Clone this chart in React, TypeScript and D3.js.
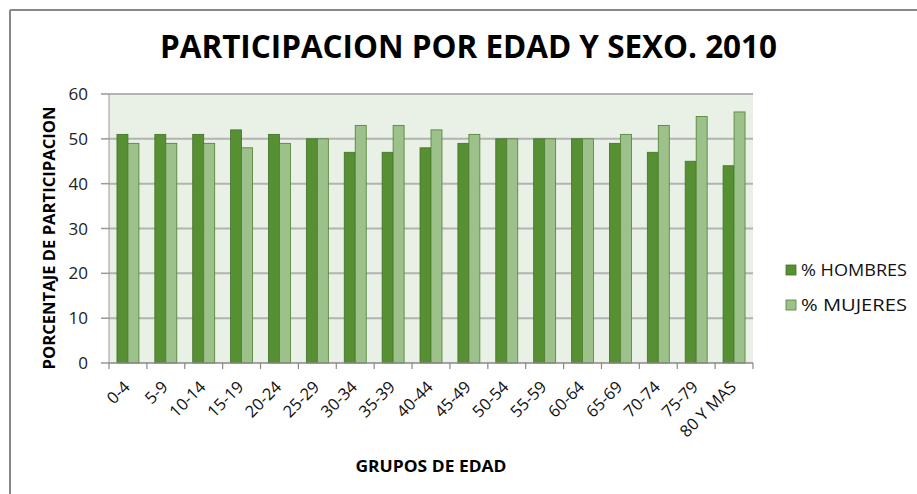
import React from "react";
import * as d3 from "d3";

const categories = ["0-4","5-9","10-14","15-19","20-24","25-29","30-34","35-39","40-44","45-49","50-54","55-59","60-64","65-69","70-74","75-79","80 Y MAS"];
const hombres = [51,51,51,52,51,50,47,47,48,49,50,50,50,49,47,45,44];
const mujeres = [49,49,49,48,49,50,53,53,52,51,50,50,50,51,53,55,56];
const yTicks = [0,10,20,30,40,50,60];
const seriesNames = ["% HOMBRES","% MUJERES"];

const W = 917, H = 494;
const plot = { left: 109, right: 753, top: 94, bottom: 363 };
const font = "'Open Sans', 'DejaVu Sans', sans-serif";

export default function App() {
  const x = d3.scaleBand<string>().domain(categories).range([plot.left, plot.right]).paddingInner(0).paddingOuter(0);
  const y = d3.scaleLinear().domain([0, 60]).range([plot.bottom, plot.top]);
  const bw = x.bandwidth();
  const barW = bw * 0.29;
  const series = [
    { name: seriesNames[0], values: hombres, fill: "#578f33", stroke: "#41712a" },
    { name: seriesNames[1], values: mujeres, fill: "#9dc18b", stroke: "#4f7f31" },
  ];
  const boundaries = d3.range(categories.length + 1).map(i => plot.left + i * bw);
  return (
    <svg width={W} height={H} style={{ position: "absolute", left: 0, top: 0, background: "#fff" }}>
      <rect x={0} y={0} width={W} height={H} fill="#fff" />
      <line x1={10} y1={10} x2={W} y2={10} stroke="#888" strokeWidth={2} />
      <line x1={10} y1={10} x2={10} y2={H} stroke="#888" strokeWidth={2} />
      <text x={468.5} y={58} textAnchor="middle" fontFamily={font} fontWeight="bold" fontSize={32} fill="#000" textLength={617} lengthAdjust="spacingAndGlyphs">PARTICIPACION POR EDAD Y SEXO. 2010</text>
      <rect x={plot.left} y={plot.top} width={plot.right - plot.left} height={plot.bottom - plot.top} fill="#e9f0e6" />
      {yTicks.map(t => (
        <g key={t}>
          {t > 0 && <line x1={plot.left} x2={plot.right} y1={y(t)} y2={y(t)} stroke="#b3b3b3" strokeWidth={2} />}
          <line x1={101} x2={plot.left} y1={y(t)} y2={y(t)} stroke="#999" strokeWidth={1.5} />
          <text x={88} y={y(t) + 6} textAnchor="end" fontFamily={font} fontSize={17} fill="#222">{t}</text>
        </g>
      ))}
      <line x1={plot.left} x2={plot.left} y1={plot.top} y2={plot.bottom} stroke="#999" strokeWidth={1} />
      {series.map((s, si) => (
        <g key={s.name}>
          {categories.map((c, i) => {
            const cx = (x(c) as number) + bw / 2;
            const x0 = cx - barW + si * barW;
            return <rect key={c} x={x0} y={y(s.values[i])} width={barW} height={plot.bottom - y(s.values[i])} fill={s.fill} stroke={s.stroke} strokeWidth={0.8} />;
          })}
        </g>
      ))}
      <line x1={plot.left} x2={plot.right} y1={plot.bottom} y2={plot.bottom} stroke="#888" strokeWidth={1.5} />
      {boundaries.map((b, i) => (
        <line key={i} x1={b} x2={b} y1={plot.bottom} y2={plot.bottom + 6} stroke="#888" strokeWidth={1.2} />
      ))}
      {categories.map(c => {
        const cx = (x(c) as number) + bw / 2 + 3;
        const yy = 388;
        return <text key={c} x={cx} y={yy} transform={`rotate(-45 ${cx} ${yy})`} textAnchor="end" fontFamily={font} fontSize={16.5} fill="#111">{c}</text>;
      })}
      <text x={431} y={472} textAnchor="middle" fontFamily={font} fontWeight="bold" fontSize={16} fill="#000" textLength={151} lengthAdjust="spacingAndGlyphs">GRUPOS DE EDAD</text>
      <text transform={`translate(55 238) rotate(-90)`} textAnchor="middle" fontFamily={font} fontWeight="bold" fontSize={16} fill="#000" textLength={263} lengthAdjust="spacingAndGlyphs">PORCENTAJE DE PARTICIPACION</text>
      {series.map((s, i) => (
        <g key={s.name} transform={`translate(786 ${265 + i * 35})`}>
          <rect x={0} y={0} width={10} height={10} fill={s.fill} stroke={s.stroke} strokeWidth={0.8} />
          <text x={15} y={10.5} fontFamily={font} fontSize={15.5} fill="#111" textLength={106} lengthAdjust="spacingAndGlyphs">{s.name}</text>
        </g>
      ))}
    </svg>
  );
}
